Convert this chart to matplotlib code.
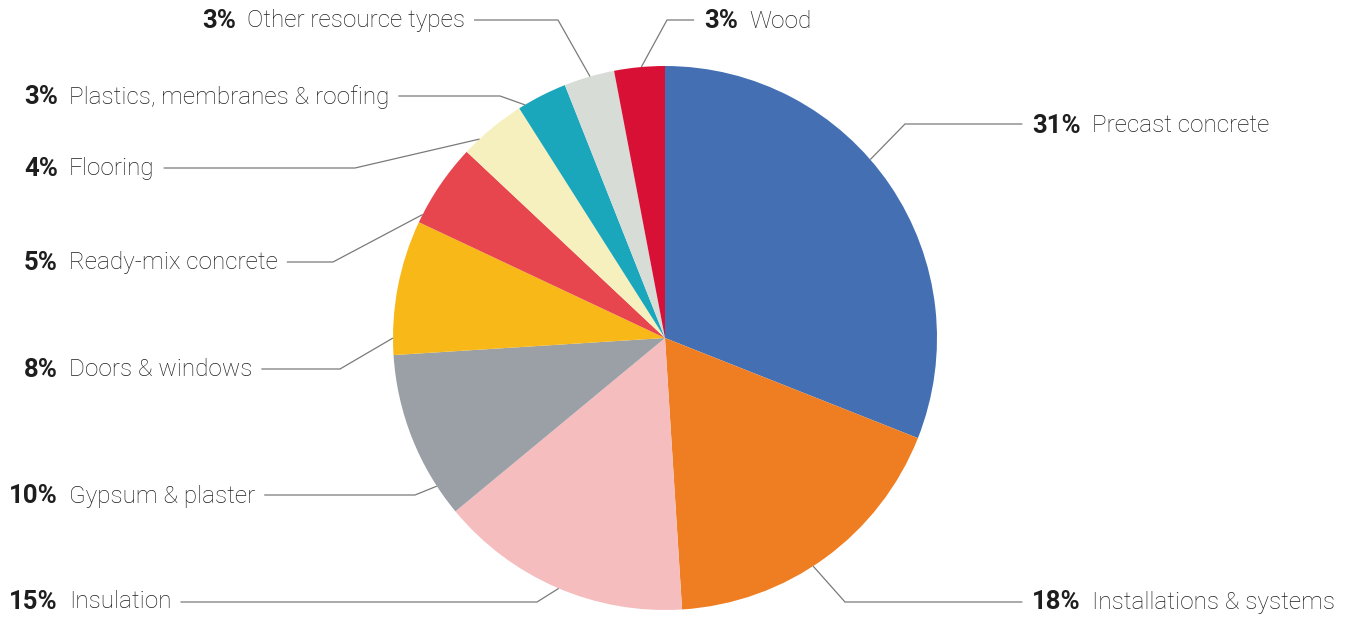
import numpy as np
import matplotlib.pyplot as plt

plt.rcParams['font.family'] = ['Roboto', 'DejaVu Sans']

# data
categories = ["Precast concrete", "Installations & systems", "Insulation",
              "Gypsum & plaster", "Doors & windows", "Ready-mix concrete",
              "Flooring", "Plastics, membranes & roofing",
              "Other resource types", "Wood"]
shares = [31, 18, 15, 10, 8, 5, 4, 3, 3, 3]
colors = ["#4470b3", "#ef7e22", "#f5bdbe", "#9aa0a6", "#f8b818",
          "#e8464f", "#f5f0bd", "#1aa7bc", "#d8dcd7", "#d91036"]

# label layout (pixel coords, y measured from top)
pct_right_x = [1081, 1081, 58, 58, 58, 58, 58, 58, 236, 738]
label_y = [126, 602, 602, 496, 370, 263, 169, 97, 21, 21]
elbows = [(905, 124), (845, 602), (537, 602), (415, 495), (340, 369),
          (333, 262), (355, 168), (500, 96), (558, 20), (667, 20)]
anchor_deg = [41, -57, 247, 213, 180, 153, 133, 121, 106, 95]
text_side = ["R", "R", "L", "L", "L", "L", "L", "L", "L", "R"]

W, H = 1353, 617
cx, cy, r = 665, 338, 272


def fy(y):
    return H - y


fig = plt.figure(figsize=(W / 100, H / 100), dpi=100)
ax = fig.add_axes([0, 0, 1, 1])

ax.pie(shares, colors=colors, startangle=90, counterclock=False,
       center=(cx, fy(cy)), radius=r, wedgeprops=dict(linewidth=0))
ax.set_xlim(0, W)
ax.set_ylim(0, H)
ax.set_aspect('equal')
ax.axis('off')

line_kw = dict(color="#7a7a7a", lw=0.9, solid_capstyle='butt')

fig.canvas.draw()
renderer = fig.canvas.get_renderer()

for i, name in enumerate(categories):
    y = fy(label_y[i])
    px = pct_right_x[i]
    pct = ax.text(px, y, f"{shares[i]}%", ha='right', va='center',
                  fontsize=18.5, fontweight='bold', color="#1e1e1e")
    nm = ax.text(px + 11, y, name, ha='left', va='center',
                 fontsize=17.5, fontweight='light', color="#1e1e1e")
    pb = pct.get_window_extent(renderer)
    nb = nm.get_window_extent(renderer)

    ex, ey = elbows[i]
    a = np.radians(anchor_deg[i])
    ax_pt = cx + r * np.cos(a)
    ay_pt = fy(cy) + r * np.sin(a)

    if text_side[i] == "L":
        hx0 = nb.x1 + 9
    else:
        hx0 = pb.x0 - 10
    ax.plot([hx0, ex, ax_pt], [fy(ey), fy(ey), ay_pt], **line_kw)

fig.savefig("out.png", dpi=100, facecolor="white")
